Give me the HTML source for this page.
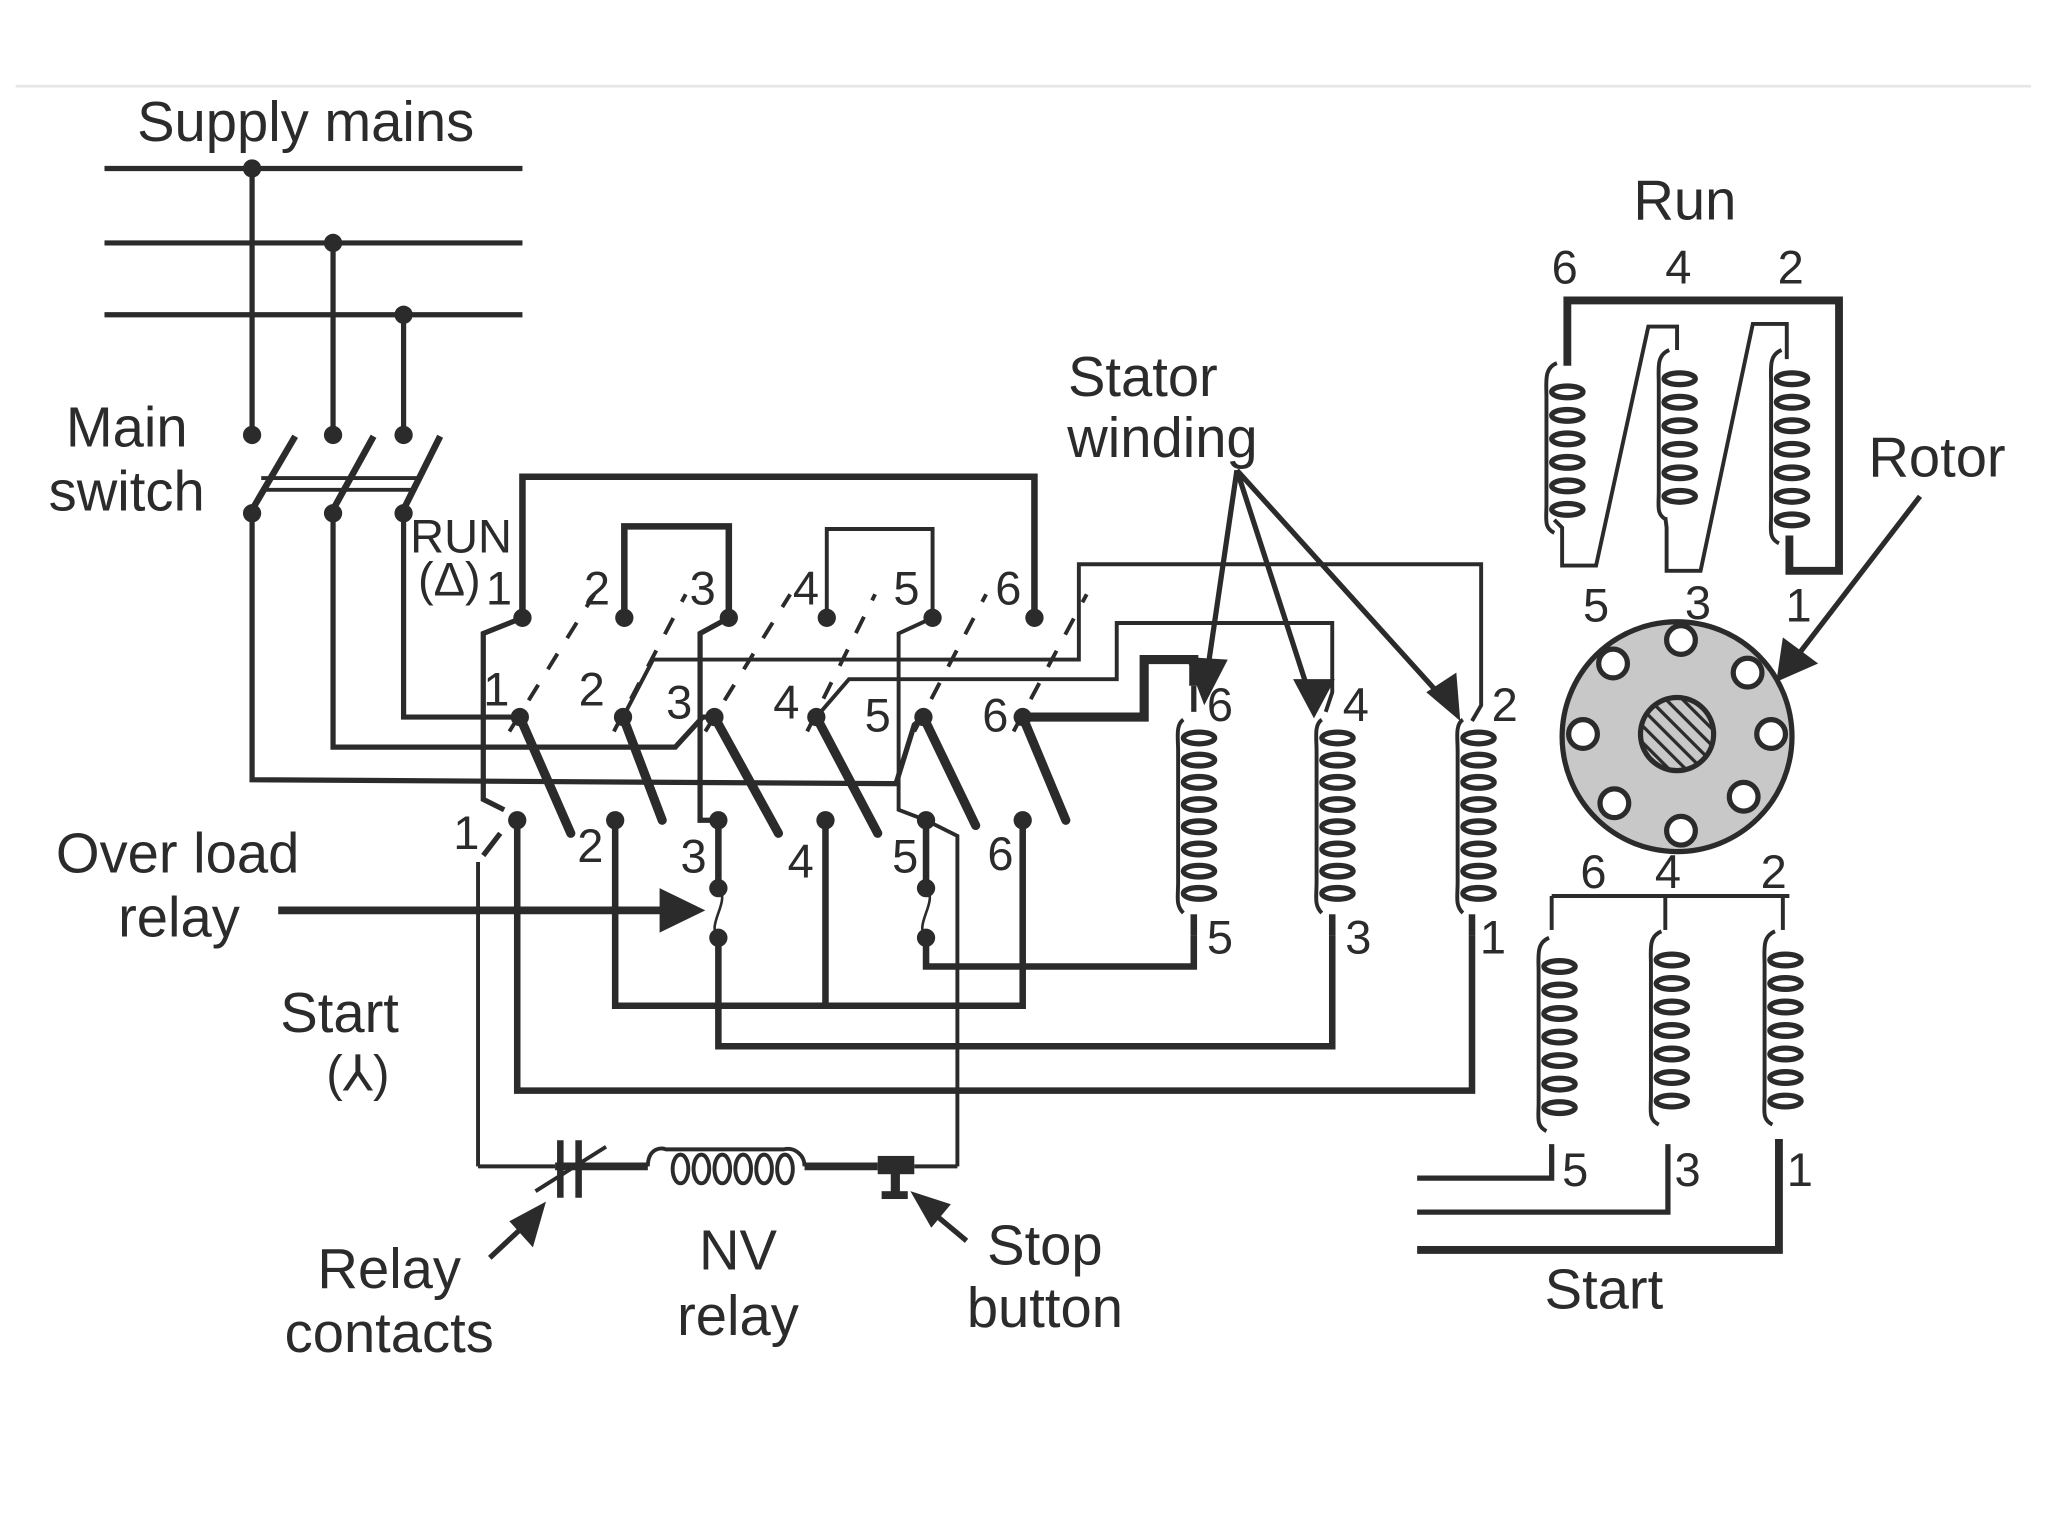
<!DOCTYPE html>
<html><head><meta charset="utf-8"><style>
html,body{margin:0;padding:0;background:#fff;}
svg{display:block}
text{font-family:"Liberation Sans",sans-serif;fill:#2b2b2b}
</style></head><body>
<svg width="2048" height="1536" viewBox="0 0 1568 1176" xmlns="http://www.w3.org/2000/svg">
<defs>
<g id="c8" fill="none" stroke="#2b2b2b" stroke-width="4">
<ellipse cx="12" cy="0" rx="12" ry="4.5"/><ellipse cx="12" cy="17" rx="12" ry="4.5"/><ellipse cx="12" cy="34" rx="12" ry="4.5"/><ellipse cx="12" cy="51" rx="12" ry="4.5"/><ellipse cx="12" cy="68" rx="12" ry="4.5"/><ellipse cx="12" cy="85" rx="12" ry="4.5"/><ellipse cx="12" cy="102" rx="12" ry="4.5"/><ellipse cx="12" cy="119" rx="12" ry="4.5"/>
<path d="M0,-14 C-6,-10 -4,0 -4,10 L-4,110 C-4,122 -6,128 0,134" stroke-width="3"/>
</g>
<g id="c6" fill="none" stroke="#2b2b2b" stroke-width="4">
<ellipse cx="12" cy="0" rx="12" ry="4.5"/><ellipse cx="12" cy="18" rx="12" ry="4.5"/><ellipse cx="12" cy="36" rx="12" ry="4.5"/><ellipse cx="12" cy="54" rx="12" ry="4.5"/><ellipse cx="12" cy="72" rx="12" ry="4.5"/><ellipse cx="12" cy="90" rx="12" ry="4.5"/>
<path d="M4,-22 C-6,-18 -4,-8 -4,4 L-4,86 C-4,98 -6,104 2,108" stroke-width="3"/>
</g>
<g id="c7" fill="none" stroke="#2b2b2b" stroke-width="4">
<ellipse cx="12" cy="0" rx="12" ry="4.5"/><ellipse cx="12" cy="18" rx="12" ry="4.5"/><ellipse cx="12" cy="36" rx="12" ry="4.5"/><ellipse cx="12" cy="54" rx="12" ry="4.5"/><ellipse cx="12" cy="72" rx="12" ry="4.5"/><ellipse cx="12" cy="90" rx="12" ry="4.5"/><ellipse cx="12" cy="108" rx="12" ry="4.5"/>
<path d="M4,-22 C-6,-18 -4,-8 -4,4 L-4,104 C-4,116 -6,122 2,126" stroke-width="3"/>
</g>
<pattern id="hatch" width="9" height="9" patternUnits="userSpaceOnUse" patternTransform="rotate(-45)">
<rect width="9" height="9" fill="#c8c8c8"/><line x1="0" y1="0" x2="0" y2="9" stroke="#2b2b2b" stroke-width="5"/>
</pattern>
</defs>

<line x1="12" y1="66" x2="1555" y2="66" stroke="#e6e6e6" stroke-width="2"/>

<g stroke="#2b2b2b" fill="none" stroke-width="4">
<line x1="80" y1="129" x2="400" y2="129"/>
<line x1="80" y1="186" x2="400" y2="186"/>
<line x1="80" y1="241" x2="400" y2="241"/>
<line x1="193" y1="129" x2="193" y2="333"/>
<line x1="255" y1="186" x2="255" y2="333"/>
<line x1="309" y1="241" x2="309" y2="333"/>
<line x1="192" y1="392" x2="226" y2="334" stroke-width="5"/>
<line x1="254" y1="392" x2="286" y2="334" stroke-width="5"/>
<line x1="308" y1="392" x2="337" y2="334" stroke-width="5"/>
<line x1="200" y1="366" x2="320" y2="366" stroke-width="3"/>
<line x1="200" y1="375" x2="318" y2="375" stroke-width="3"/>
<polyline points="309,393 309,549 398,549"/>
<polyline points="255,393 255,572 517,572 538,549 547,549"/>
<polyline points="193,393 193,597 686,600 700,555 707,549"/>
<polyline points="400,473 400,365 792,365 792,473" stroke-width="5"/>
<polyline points="478,473 478,403 558,403 558,473" stroke-width="5"/>
<polyline points="633,473 633,405 714,405 714,473" stroke-width="3"/>
<polyline points="400,473 370,485 370,612 386,620"/>
<polyline points="370,655 383,638"/>
<line x1="366" y1="660" x2="366" y2="893" stroke-width="3"/>
<polyline points="558,473 536,485 536,628 550,628"/>
<polyline points="714,473 688,485 688,620 709,628 733,640 733,893" stroke-width="3"/>
<polyline points="477,549 500,505 826,505 826,432 1134,432 1134,540 1127,552" stroke-width="3"/>
<polyline points="625,549 650,520 855,520 855,477 1020,477 1020,530 1015,545" stroke-width="3"/>
<polyline points="783,549 876,549 876,505 914,505 914,525" stroke-width="7"/>
<g stroke-width="3" stroke-dasharray="14,14">
<line x1="390" y1="560" x2="455" y2="455"/>
<line x1="470" y1="560" x2="525" y2="455"/>
<line x1="540" y1="560" x2="605" y2="455"/>
<line x1="618" y1="560" x2="670" y2="455"/>
<line x1="700" y1="560" x2="755" y2="455"/>
<line x1="776" y1="560" x2="832" y2="455"/>
</g>
<g stroke-width="7" stroke-linecap="round">
<line x1="398" y1="549" x2="437" y2="638"/>
<line x1="477" y1="549" x2="507" y2="628"/>
<line x1="547" y1="549" x2="596" y2="638"/>
<line x1="625" y1="549" x2="672" y2="638"/>
<line x1="707" y1="549" x2="747" y2="632"/>
<line x1="783" y1="549" x2="816" y2="628"/>
</g>
<polyline points="396,628 396,835 1127,835 1127,716" stroke-width="5"/>
<polyline points="471,628 471,770 783,770 783,628" stroke-width="5"/>
<line x1="632" y1="628" x2="632" y2="770" stroke-width="5"/>
<line x1="550" y1="628" x2="550" y2="680" stroke-width="5"/>
<polyline points="550,718 550,801 1020,801 1020,716" stroke-width="5"/>
<line x1="709" y1="628" x2="709" y2="680" stroke-width="5"/>
<polyline points="709,718 709,740 914,740 914,716" stroke-width="5"/>
<path d="M550,680 C560,690 540,708 550,718" stroke-width="2"/>
<path d="M709,680 C719,690 699,708 709,718" stroke-width="2"/>
<line x1="213" y1="697" x2="510" y2="697" stroke-width="6"/>
<polyline points="366,893 425,893" stroke-width="3"/>
<line x1="425" y1="893" x2="496" y2="893" stroke-width="6"/>
<line x1="429" y1="873" x2="429" y2="917" stroke-width="5"/>
<line x1="443" y1="873" x2="443" y2="917" stroke-width="5"/>
<line x1="410" y1="912" x2="464" y2="878" stroke-width="3"/>
<path d="M496,893 C496,880 505,878 510,880 L600,880 C608,878 616,884 616,893" stroke-width="3"/>
<line x1="616" y1="893" x2="672" y2="893" stroke-width="6"/>
<line x1="700" y1="893" x2="733" y2="893" stroke-width="3"/>
<line x1="914" y1="525" x2="914" y2="545"/>
<line x1="914" y1="700" x2="914" y2="716" stroke-width="5"/>
<line x1="1020" y1="700" x2="1020" y2="716" stroke-width="5"/>
<line x1="1127" y1="700" x2="1127" y2="716" stroke-width="5"/>
<line x1="947" y1="360" x2="925" y2="510"/>
<line x1="947" y1="360" x2="1002" y2="530"/>
<line x1="947" y1="360" x2="1105" y2="535"/>
<line x1="1470" y1="380" x2="1370" y2="510"/>
<line x1="375" y1="963" x2="405" y2="935" stroke-width="4"/>
<line x1="740" y1="950" x2="710" y2="925" stroke-width="4"/>
<polyline points="1200,280 1200,230 1408,230 1408,437 1370,437 1370,410" stroke-width="6"/>
<polyline points="1190,398 1196,404 1196,433 1222,433 1262,250 1284,250 1284,268" stroke-width="3"/>
<polyline points="1275,396 1276,404 1276,437 1302,437 1342,248 1368,248 1368,275" stroke-width="3"/>
<line x1="1188" y1="686" x2="1370" y2="686" stroke-width="3"/>
<line x1="1188" y1="686" x2="1188" y2="712" stroke-width="3"/>
<line x1="1275" y1="686" x2="1275" y2="712" stroke-width="3"/>
<line x1="1365" y1="686" x2="1365" y2="712" stroke-width="3"/>
<polyline points="1188,876 1188,902 1085,902" stroke-width="4"/>
<polyline points="1277,876 1277,928 1085,928" stroke-width="4"/>
<polyline points="1362,872 1362,957 1085,957" stroke-width="6"/>
</g>

<use href="#c8" x="906" y="565"/>
<use href="#c8" x="1012" y="565"/>
<use href="#c8" x="1120" y="565"/>
<use href="#c6" x="1188" y="300"/>
<use href="#c6" x="1274" y="290"/>
<use href="#c7" x="1360" y="290"/>
<use href="#c7" x="1182" y="740"/>
<use href="#c7" x="1268" y="735"/>
<use href="#c7" x="1355" y="735"/>
<g fill="none" stroke="#2b2b2b" stroke-width="3">
<ellipse cx="521" cy="895" rx="6" ry="11"/><ellipse cx="537" cy="895" rx="6" ry="11"/><ellipse cx="553" cy="895" rx="6" ry="11"/><ellipse cx="569" cy="895" rx="6" ry="11"/><ellipse cx="585" cy="895" rx="6" ry="11"/><ellipse cx="601" cy="895" rx="6" ry="11"/>
</g>
<rect x="672" y="885" width="28" height="14" fill="#2b2b2b"/>
<rect x="682" y="895" width="7" height="20" fill="#2b2b2b"/>
<rect x="675" y="912" width="20" height="6" fill="#2b2b2b"/>

<g fill="#2b2b2b">
<polygon points="540,697 505,680 505,714"/>
<polygon points="922,540 908,503 940,505"/>
<polygon points="1006,550 990,520 1022,520"/>
<polygon points="1118,552 1092,530 1115,515"/>
<polygon points="1360,522 1365,488 1392,508"/>
<polygon points="418,920 390,935 408,955"/>
<polygon points="697,912 728,922 713,940"/>
</g>

<g fill="#2b2b2b">
<circle cx="193" cy="129" r="7"/><circle cx="255" cy="186" r="7"/><circle cx="309" cy="241" r="7"/>
<circle cx="193" cy="333" r="7"/><circle cx="255" cy="333" r="7"/><circle cx="309" cy="333" r="7"/>
<circle cx="193" cy="393" r="7"/><circle cx="255" cy="393" r="7"/><circle cx="309" cy="393" r="7"/>
<circle cx="400" cy="473" r="7"/><circle cx="478" cy="473" r="7"/><circle cx="558" cy="473" r="7"/><circle cx="633" cy="473" r="7"/><circle cx="714" cy="473" r="7"/><circle cx="792" cy="473" r="7"/>
<circle cx="398" cy="549" r="7"/><circle cx="477" cy="549" r="7"/><circle cx="547" cy="549" r="7"/><circle cx="625" cy="549" r="7"/><circle cx="707" cy="549" r="7"/><circle cx="783" cy="549" r="7"/>
<circle cx="396" cy="628" r="7"/><circle cx="471" cy="628" r="7"/><circle cx="550" cy="628" r="7"/><circle cx="632" cy="628" r="7"/><circle cx="709" cy="628" r="7"/><circle cx="783" cy="628" r="7"/>
<circle cx="550" cy="680" r="7"/><circle cx="550" cy="718" r="7"/><circle cx="709" cy="680" r="7"/><circle cx="709" cy="718" r="7"/>
</g>

<circle cx="1284" cy="564" r="88" fill="#c8c8c8" stroke="#2b2b2b" stroke-width="4"/>
<circle cx="1284" cy="562" r="28" fill="url(#hatch)" stroke="#2b2b2b" stroke-width="4"/>
<g fill="#fff" stroke="#2b2b2b" stroke-width="4">
<circle cx="1287" cy="490" r="11"/><circle cx="1287" cy="636" r="11"/>
<circle cx="1212" cy="562" r="11"/><circle cx="1356" cy="562" r="11"/>
<circle cx="1235" cy="508" r="11"/><circle cx="1338" cy="515" r="11"/>
<circle cx="1236" cy="615" r="11"/><circle cx="1335" cy="610" r="11"/>
</g>

<g font-size="43">
<text x="234" y="108" text-anchor="middle">Supply mains</text>
<text x="97" y="342" text-anchor="middle">Main</text>
<text x="97" y="391" text-anchor="middle">switch</text>
<text x="875" y="303" text-anchor="middle">Stator</text>
<text x="890" y="350" text-anchor="middle">winding</text>
<text x="1290" y="168" text-anchor="middle">Run</text>
<text x="1483" y="365" text-anchor="middle">Rotor</text>
<text x="136" y="668" text-anchor="middle">Over load</text>
<text x="137" y="717" text-anchor="middle">relay</text>
<text x="260" y="790" text-anchor="middle">Start</text>
<text x="298" y="986" text-anchor="middle">Relay</text>
<text x="298" y="1035" text-anchor="middle">contacts</text>
<text x="565" y="972" text-anchor="middle">NV</text>
<text x="565" y="1022" text-anchor="middle">relay</text>
<text x="800" y="968" text-anchor="middle">Stop</text>
<text x="800" y="1016" text-anchor="middle">button</text>
<text x="1228" y="1002" text-anchor="middle">Start</text>
</g>
<g font-size="36">
<text x="314" y="423">RUN</text>
<text x="320" y="456">(Δ)</text>
<text x="274" y="835" text-anchor="middle" font-size="38">(⅄)</text>
<text x="372" y="463">1</text><text x="447" y="463">2</text><text x="528" y="463">3</text><text x="607" y="463">4</text><text x="684" y="463">5</text><text x="762" y="463">6</text>
<text x="370" y="540">1</text><text x="443" y="540">2</text><text x="510" y="550">3</text><text x="592" y="550">4</text><text x="662" y="560">5</text><text x="752" y="560">6</text>
<text x="347" y="650">1</text><text x="442" y="660">2</text><text x="521" y="668">3</text><text x="603" y="672">4</text><text x="683" y="668">5</text><text x="756" y="666">6</text>
<text x="924" y="552">6</text><text x="1028" y="552">4</text><text x="1142" y="552">2</text>
<text x="924" y="730">5</text><text x="1030" y="730">3</text><text x="1133" y="730">1</text>
<text x="1188" y="217">6</text><text x="1275" y="217">4</text><text x="1361" y="217">2</text>
<text x="1212" y="476">5</text><text x="1290" y="474">3</text><text x="1367" y="476">1</text>
<text x="1210" y="680">6</text><text x="1267" y="680">4</text><text x="1348" y="680">2</text>
<text x="1196" y="908">5</text><text x="1282" y="908">3</text><text x="1368" y="908">1</text>
</g>
</svg>
</body></html>
